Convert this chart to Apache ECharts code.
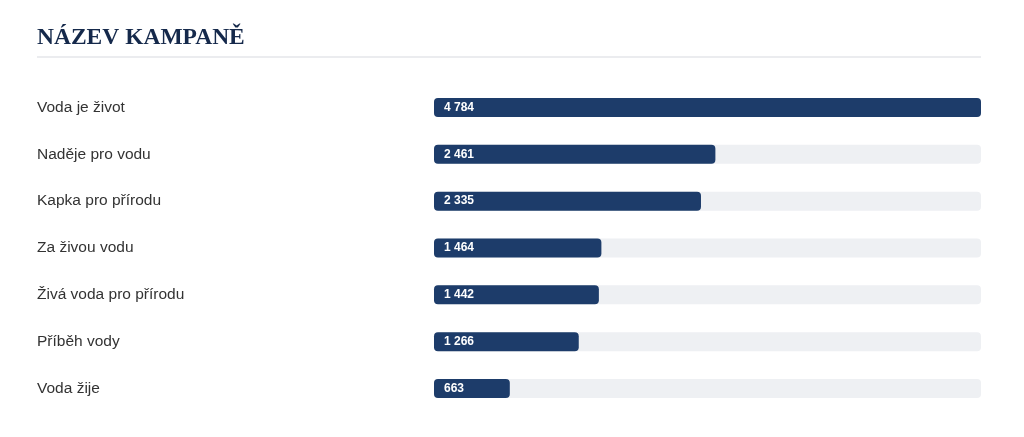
<!DOCTYPE html>
<html>
<head>
<meta charset="utf-8">
<script src="https://cdn.jsdelivr.net/npm/echarts@6/dist/echarts.min.js"></script>
<style>
  html, body { margin: 0; padding: 0; background: #ffffff; }
  #chart { width: 1024px; height: 437px; }
</style>
</head>
<body>
<div id="chart"></div>
<script>
// data
const campaigns = [
  'Voda je život',
  'Naděje pro vodu',
  'Kapka pro přírodu',
  'Za živou vodu',
  'Živá voda pro přírodu',
  'Příběh vody',
  'Voda žije'
]
const counts = [4784, 2461, 2335, 1464, 1442, 1266, 663]
const titleText = 'NÁZEV KAMPANĚ'

const navy = '#1d3c6a'

// "4784" -> "4 784"
const fmt = v => String(v).replace(/\B(?=(\d{3})+(?!\d))/g, ' ')

const chart = echarts.init(document.getElementById('chart'))

const option = {
  animation: false,
  title: {
    text: titleText,
    left: 32,
    top: 21,
    textStyle: {
      fontFamily: 'Liberation Serif',
      fontWeight: 'bold',
      fontSize: 23.5,
      color: '#15294b'
    }
  },
  graphic: [
    {
      type: 'line',
      shape: { x1: 37, y1: 57, x2: 981, y2: 57 },
      style: { stroke: '#e4e6ea', lineWidth: 1.5 }
    }
  ],
  grid: {
    left: 434,
    right: 43,
    top: 84,
    bottom: 25
  },
  xAxis: {
    type: 'value',
    min: 0,
    max: Math.max(...counts),
    show: false
  },
  yAxis: {
    type: 'category',
    data: campaigns,
    inverse: true,
    axisLine: { show: false },
    axisTick: { show: false },
    axisLabel: {
      align: 'left',
      margin: 397,
      fontFamily: 'Liberation Sans',
      fontSize: 15.5,
      color: '#333333'
    }
  },
  series: [
    {
      type: 'bar',
      data: counts,
      barWidth: 19,
      showBackground: true,
      backgroundStyle: {
        color: '#eef0f3',
        borderRadius: 4
      },
      itemStyle: {
        color: navy,
        borderRadius: 4
      },
      label: {
        show: true,
        position: 'insideLeft',
        distance: 10,
        formatter: p => fmt(p.value),
        fontFamily: 'Liberation Sans',
        fontWeight: 'bold',
        fontSize: 12,
        color: '#ffffff'
      }
    }
  ]
}

chart.setOption(option)
</script>
</body>
</html>
